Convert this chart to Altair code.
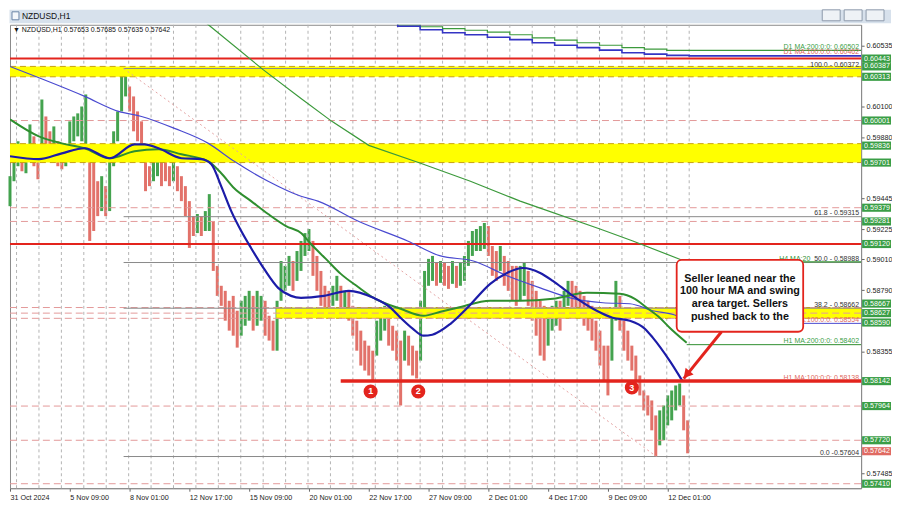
import altair as alt
import pandas as pd

W, H = 854, 465

# ---------------- axis data ----------------
x_tick_bars = [0, 64, 128, 192, 256, 320, 384, 448, 512, 576, 640, 704]
x_tick_labels = ["31 Oct 2024", "5 Nov 09:00", "8 Nov 01:00", "12 Nov 17:00", "15 Nov 09:00",
                 "20 Nov 01:00", "22 Nov 17:00", "27 Nov 09:00", "2 Dec 01:00", "4 Dec 17:00",
                 "9 Dec 09:00", "12 Dec 01:00"]
day_grid_bars = list(range(7, 728, 24))
y_tick_values = [0.60535, 0.60100, 0.59880, 0.59445, 0.59225, 0.59010, 0.58790, 0.58355, 0.57485]

# ---------------- price (aggregated hourly candles) ----------------
candle_high = [
    0.59604, 0.59782, 0.59853, 0.59796, 0.59817, 0.59973, 0.59888, 0.59746, 0.60151, 0.60030,
    0.59924, 0.59959, 0.59853, 0.59782, 0.59817, 0.59995, 0.60030, 0.60052, 0.60101, 0.60187,
    0.59782, 0.59710, 0.59568, 0.59604, 0.59533, 0.59710, 0.59924, 0.60066, 0.60350, 0.60372,
    0.60244, 0.60173, 0.60066, 0.59995, 0.59782, 0.59675, 0.59746, 0.59782, 0.59746, 0.59710,
    0.59675, 0.59710, 0.59675, 0.59604, 0.59533, 0.59426, 0.59319, 0.59334, 0.59319, 0.59355,
    0.59476, 0.59284, 0.58964, 0.58822, 0.58786, 0.58715, 0.58750, 0.58644, 0.58715, 0.58750,
    0.58786, 0.58750, 0.58786, 0.58750, 0.58715, 0.58608, 0.58573, 0.58715, 0.58999, 0.58964,
    0.59035, 0.58999, 0.59070, 0.59142, 0.59198, 0.59227, 0.59142, 0.59035, 0.58928, 0.58822,
    0.58786, 0.58822, 0.58893, 0.58822, 0.58786, 0.58786, 0.58679, 0.58573, 0.58502, 0.58431,
    0.58395, 0.58359, 0.58573, 0.58644, 0.58679, 0.58608, 0.58537, 0.58502, 0.58431, 0.58502,
    0.58466, 0.58395, 0.58359, 0.58715, 0.58928, 0.59014, 0.59035, 0.58985, 0.58999, 0.58985,
    0.58964, 0.58999, 0.58964, 0.58985, 0.59035, 0.59142, 0.59213, 0.59227, 0.59248, 0.59270,
    0.59248, 0.59106, 0.59070, 0.59106, 0.59035, 0.58999, 0.58964, 0.58964, 0.58964, 0.58985,
    0.58928, 0.58857, 0.58786, 0.58715, 0.58679, 0.58644, 0.58679, 0.58715, 0.58715, 0.58786,
    0.58857, 0.58857, 0.58822, 0.58786, 0.58750, 0.58715, 0.58679, 0.58573, 0.58502, 0.58395,
    0.58395, 0.58644, 0.58857, 0.58750, 0.58573, 0.58502, 0.58395, 0.58324, 0.58182, 0.58075,
    0.58040, 0.58004, 0.57897, 0.57933, 0.57968, 0.58040, 0.58075, 0.58111, 0.58125, 0.58040,
    0.57862]
candle_low = [
    0.59390, 0.59568, 0.59675, 0.59639, 0.59625, 0.59710, 0.59675, 0.59582, 0.59782, 0.59782,
    0.59710, 0.59746, 0.59675, 0.59653, 0.59675, 0.59782, 0.59853, 0.59888, 0.59853, 0.59817,
    0.59142, 0.59213, 0.59319, 0.59355, 0.59319, 0.59355, 0.59675, 0.59853, 0.60066, 0.60173,
    0.60066, 0.59924, 0.59853, 0.59782, 0.59497, 0.59533, 0.59568, 0.59604, 0.59533, 0.59568,
    0.59533, 0.59568, 0.59497, 0.59426, 0.59319, 0.59092, 0.59177, 0.59198, 0.59177, 0.59213,
    0.59213, 0.58928, 0.58750, 0.58679, 0.58573, 0.58502, 0.58466, 0.58381, 0.58466, 0.58537,
    0.58573, 0.58502, 0.58537, 0.58573, 0.58466, 0.58431, 0.58359, 0.58359, 0.58715, 0.58786,
    0.58822, 0.58786, 0.58857, 0.58928, 0.59035, 0.59070, 0.58893, 0.58786, 0.58679, 0.58644,
    0.58630, 0.58679, 0.58715, 0.58608, 0.58644, 0.58573, 0.58466, 0.58359, 0.58253, 0.58217,
    0.58182, 0.58146, 0.58324, 0.58431, 0.58502, 0.58395, 0.58359, 0.58288, 0.57968, 0.58288,
    0.58253, 0.58182, 0.58161, 0.58288, 0.58644, 0.58822, 0.58857, 0.58822, 0.58843, 0.58822,
    0.58800, 0.58836, 0.58807, 0.58822, 0.58857, 0.58964, 0.59035, 0.59070, 0.59070, 0.59085,
    0.59035, 0.58893, 0.58857, 0.58928, 0.58822, 0.58786, 0.58715, 0.58679, 0.58715, 0.58750,
    0.58679, 0.58573, 0.58466, 0.58324, 0.58288, 0.58395, 0.58502, 0.58537, 0.58502, 0.58608,
    0.58679, 0.58644, 0.58644, 0.58608, 0.58537, 0.58502, 0.58431, 0.58359, 0.58253, 0.58146,
    0.58040, 0.58288, 0.58573, 0.58502, 0.58359, 0.58288, 0.58217, 0.58146, 0.58040, 0.57933,
    0.57897, 0.57791, 0.57604, 0.57684, 0.57720, 0.57826, 0.57862, 0.57933, 0.57968, 0.57791,
    0.57627]
candle_bar = [round(i * 64 / 15, 2) for i in range(len(candle_high))]

# ---------------- moving averages ----------------
h1_ma100_bar = [0, 31, 55.5, 80, 106.7, 133.3, 144, 159, 183.5, 204.8, 215.5, 226, 236.8, 247.5,
                258, 272, 287, 300.8, 311.5, 336, 362.7, 389, 407.5, 418, 431, 442.7, 452, 471.5,
                489.6, 514, 532, 549, 567.5, 581, 599.5, 628, 645, 663.5, 679.5, 688, 706, 720]
h1_ma100_val = [0.59746, 0.59725, 0.59767, 0.59803, 0.59732, 0.59831, 0.59831, 0.59803, 0.59732,
                0.59725, 0.59689, 0.59533, 0.59355, 0.59213, 0.59092, 0.58942, 0.58807, 0.58750,
                0.58736, 0.58750, 0.58786, 0.58736, 0.58665, 0.58594, 0.58516, 0.58466, 0.58473,
                0.58551, 0.58665, 0.58836, 0.58914, 0.58949, 0.58914, 0.58857, 0.58765, 0.58644,
                0.58594, 0.58573, 0.58516, 0.58452, 0.58288, 0.58140]
h1_ma200_bar = [0, 30.9, 55.5, 80, 106.7, 133.3, 158.9, 183.5, 212.3, 226.1, 240, 258.1, 276.3,
                295.5, 311.5, 322.1, 338.1, 354.1, 372.3, 389.3, 418.1, 442.7, 460.8, 478.9,
                514.1, 546.1, 581.3, 617.6, 652.8, 668.8, 681.6, 695.5, 706.1, 724.3]
h1_ma200_val = [0.60009, 0.59888, 0.59838, 0.59803, 0.59732, 0.59782, 0.59796, 0.59760, 0.59710,
                0.59625, 0.59518, 0.59426, 0.59334, 0.59248, 0.59198, 0.59120, 0.59014, 0.58907,
                0.58815, 0.58736, 0.58658, 0.58608, 0.58637, 0.58665, 0.58715, 0.58715, 0.58729,
                0.58772, 0.58765, 0.58729, 0.58665, 0.58594, 0.58523, 0.58416]
h4_ma100_bar = [0, 80, 116.3, 140.8, 176, 212.3, 240, 276.3, 311.5, 329.6, 372.3, 425.6, 460.8,
                496, 532.3, 567.5, 599.5, 634.7, 663.5, 688, 713.6, 724.3]
h4_ma100_val = [0.60386, 0.60173, 0.60066, 0.60030, 0.59945, 0.59838, 0.59710, 0.59568, 0.59461,
                0.59426, 0.59284, 0.59142, 0.59035, 0.58999, 0.58893, 0.58807, 0.58736, 0.58701,
                0.58694, 0.58644, 0.58608, 0.58566]
h4_ma200_bar = [204.8, 212.3, 270.9, 311.5, 344.5, 384, 439.5, 492.8, 546.1, 567.5, 631.5, 666.7, 724.3]
h4_ma200_val = [0.60727, 0.60684, 0.60364, 0.60158, 0.59995, 0.59824, 0.59696, 0.59568, 0.59426,
                0.59376, 0.59227, 0.59142, 0.58992]
d1_ma200_bar = [391, 415, 439, 463, 487, 511, 535, 559, 583, 607, 631, 655, 679, 703, 911]
d1_ma200_val = [0.60720, 0.60684, 0.60670, 0.60656, 0.60645, 0.60631, 0.60613, 0.60591, 0.60574,
                0.60556, 0.60538, 0.60521, 0.60510, 0.60502, 0.60502]
d1_ma100_bar = [391, 415, 439, 463, 487, 511, 535, 559, 583, 607, 631, 655, 679, 703, 727, 911]
d1_ma100_val = [0.60720, 0.60674, 0.60649, 0.60627, 0.60613, 0.60595, 0.60578, 0.60556, 0.60538,
                0.60521, 0.60503, 0.60485, 0.60475, 0.60466, 0.60462, 0.60462]

# ---------------- levels ----------------
pink_levels = [0.60001, 0.59379, 0.59281, 0.58667, 0.58627, 0.58590, 0.57964, 0.57720, 0.57410]
band_top = [0.60387, 0.59836, 0.58667]
band_bottom = [0.60313, 0.59701, 0.58590]
band_start = [0, 0, 285]
red_full_levels = [0.60443, 0.59120]
support_level = 0.58142
support_start = 354
fib_levels = [0.60372, 0.59315, 0.58988, 0.58662, 0.57604]
fib_text = ["100.0 - 0.60372", "61.8 - 0.59315", "50.0 - 0.58988", "38.2 - 0.58662", "0.0 -0.57604"]
fib_start = 121.6
fib_diag_bar = [121.6, 692]
fib_diag_val = [0.60372, 0.57604]
tag_values = [0.60443, 0.60387, 0.60313, 0.60001, 0.59836, 0.59701, 0.59379, 0.59281, 0.59120,
              0.58667, 0.58627, 0.58590, 0.58142, 0.57964, 0.57720, 0.57410]
# where each price tag is drawn on the right scale (crowded tags nudged apart, as the terminal does)
tag_drawn_at = [0.60443, 0.60387, 0.60313, 0.60001, 0.59822, 0.59701, 0.59379, 0.59281, 0.59120,
                0.58695, 0.58627, 0.58560, 0.58142, 0.57964, 0.57720, 0.57410]
last_price = 0.57642

ma_label_text = ["D1 MA:200:0:0: 0.60502", "D1 MA:100:0:0: 0.60462", "H4 MA:100:0:0: 0.58554",
                 "H1 MA:200:0:0: 0.58402", "H1 MA:100:0:0: 0.58138"]
ma_label_val = [0.60502, 0.60462, 0.58554, 0.58402, 0.58138]
ma_label_kind = ["g", "b", "b", "g", "b"]

circle_bar = [386, 437, 665.6]
circle_val = [0.58068, 0.58068, 0.58096]
circle_txt = ["1", "2", "3"]

note_lines = ["Seller leaned near the", "100 hour MA and swing", "area target. Sellers", "pushed back to the"]
note_line_val = [0.58873, 0.58786, 0.58691, 0.58601]
note_box_bar = [713.6, 849]
note_box_val = [0.59007, 0.58494]
arrow_from = (761.6, 0.58494)
arrow_to = (721.1, 0.58160)
arrow_head = (724.3, 0.58189)

# ---------------- styles ----------------
FONT = "Liberation Sans"
GREEN = "#2f8f2f"
BLUE = "#1c1ca8"
RED = "#e3241d"
PINK = "#e39a9a"
GOLD = "#c9a20e"
UP = "#3a9e46"
DOWN = "#e06a62"

xs = alt.Scale(domain=[0, 911], nice=False, zero=False)
ys = alt.Scale(domain=[0.57378, 0.60684], nice=False, zero=False)

label_expr = "[" + ",".join(f"'{s}'" for s in x_tick_labels) + "][round(datum.value / 64)]"
AX = alt.Axis(values=x_tick_bars, labelExpr=label_expr, labelAlign="left", labelFontSize=7.2,
              labelFont=FONT, labelColor="#222", labelPadding=2, tickSize=3, tickColor="#666",
              domainColor="#8a8a8a", grid=False, title=None, labelFlush=False, labelOverlap=False,
              labelBound=False)
AY = alt.Axis(orient="right", values=y_tick_values, format=".5f", labelFontSize=7.2, labelFont=FONT,
              labelColor="#222", labelPadding=2, tickSize=3, tickColor="#666", domainColor="#8a8a8a",
              grid=False, title=None, labelOverlap=False, labelFlush=False, labelBound=False)


def X(f="bar"):
    return alt.X(f"{f}:Q", scale=xs, axis=AX)


def Y(f="v"):
    return alt.Y(f"{f}:Q", scale=ys, axis=AY)


# ---------------- tables ----------------
cdf = pd.DataFrame({"bar": candle_bar, "hi": candle_high, "lo": candle_low})
mid = (cdf.hi + cdf.lo) / 2
cdf["dir"] = ["up" if i == 0 or mid[i] >= mid[i - 1] else "down" for i in range(len(cdf))]

grid_df = pd.DataFrame({"bar": day_grid_bars})
pink_df = pd.DataFrame({"v": pink_levels})
band_df = pd.DataFrame({"bar": band_start, "top": band_top, "bot": band_bottom})
edge_df = pd.DataFrame({"bar": band_start + band_start, "v": band_top + band_bottom})
red_df = pd.DataFrame({"v": red_full_levels})
fib_df = pd.DataFrame({"bar": [fib_start] * len(fib_levels), "v": fib_levels, "t": fib_text})
diag_df = pd.DataFrame({"bar": fib_diag_bar, "v": fib_diag_val})


def line_df(b, v):
    return pd.DataFrame({"bar": b, "v": v})


# ---------------- layers ----------------
grid = alt.Chart(grid_df).mark_rule(color="#b4b4b4", strokeDash=[3, 3], strokeWidth=1).encode(x=X())

bands = alt.Chart(band_df).mark_rect(color="#ffff00", opacity=1).encode(
    x=X(), x2=alt.value(W), y=Y("top"), y2=alt.Y2("bot:Q"))
band_edges = alt.Chart(edge_df).mark_rule(color=GOLD, strokeDash=[6, 4], strokeWidth=1).encode(
    x=X(), x2=alt.value(W), y=Y())
pinks = alt.Chart(pink_df).mark_rule(color=PINK, strokeDash=[7, 4], strokeWidth=1).encode(y=Y())
fibs = alt.Chart(fib_df).mark_rule(color="#8a8a8a", strokeWidth=1).encode(
    x=X(), x2=alt.value(W), y=Y())
diag = alt.Chart(diag_df).mark_line(color="#e4a4a4", strokeDash=[2, 3], strokeWidth=1).encode(
    x=X(), y=Y())
reds = alt.Chart(red_df).mark_rule(color=RED, strokeWidth=2).encode(y=Y())


def ma(b, v, color, width, interp="monotone"):
    return alt.Chart(line_df(b, v)).mark_line(color=color, strokeWidth=width, clip=True,
                                               interpolate=interp).encode(x=X(), y=Y())


d1_200 = ma(d1_ma200_bar, d1_ma200_val, "#3c9a3c", 1.2, "step-after")
d1_100 = ma(d1_ma100_bar, d1_ma100_val, "#3434c4", 1.6, "step-after")
h4_200 = ma(h4_ma200_bar + [911], h4_ma200_val + [0.58992], "#3c9a3c", 1.2, "linear")
h4_100 = ma(h4_ma100_bar, h4_ma100_val, "#4a4ad0", 1.2)
h4_100_ext = ma([724.3, 911], [0.58554, 0.58554], "#4a4ad0", 1, "linear")
h1_200 = ma(h1_ma200_bar, h1_ma200_val, GREEN, 2)
h1_200_ext = ma([724.3, 911], [0.58402, 0.58402], GREEN, 1, "linear")
h1_100 = ma(h1_ma100_bar, h1_ma100_val, BLUE, 2.2)

candles = alt.Chart(cdf).mark_rule(strokeWidth=3.0, opacity=0.95).encode(
    x=X(), y=Y("lo"), y2="hi:Q",
    color=alt.Color("dir:N", scale=alt.Scale(domain=["up", "down"], range=[UP, DOWN]), legend=None),
)

support = alt.Chart(pd.DataFrame({"bar": [support_start], "v": [support_level]})).mark_rule(
    color=RED, strokeWidth=3.5).encode(x=X(), x2=alt.value(W), y=Y())

fib_labels = alt.Chart(fib_df).mark_text(align="right", baseline="alphabetic", dy=-1.5,
                                         fontSize=7, font=FONT, color="#333").encode(
    x=alt.value(W - 2), y=Y(), text="t:N")
ma_lab_df = pd.DataFrame({"v": ma_label_val, "t": ma_label_text, "k": ma_label_kind})
ma_labels = alt.Chart(ma_lab_df).mark_text(align="right", baseline="alphabetic", dy=-1.5,
                                           fontSize=7, font=FONT).encode(
    x=alt.value(W - 2), y=Y(), text="t:N",
    color=alt.Color("k:N", scale=alt.Scale(domain=["g", "b"], range=["#2f8f2f", "#3030c0"]), legend=None))
h4_label = alt.Chart(pd.DataFrame({"v": [0.58988], "t": ["H4 MA:20"]})).mark_text(
    align="right", baseline="alphabetic", dy=-1.5, fontSize=7, font=FONT, color="#2f8f2f").encode(
    x=alt.value(803), y=Y(), text="t:N")

circ_df = pd.DataFrame({"bar": circle_bar, "v": circle_val, "t": circle_txt})
circles = alt.Chart(circ_df).mark_circle(size=200, color=RED, opacity=1).encode(x=X(), y=Y())
circle_txt_l = alt.Chart(circ_df).mark_text(color="white", fontSize=9, font=FONT, fontWeight="bold",
                                            baseline="middle").encode(x=X(), y=Y(), text="t:N")

arrow = alt.Chart(pd.DataFrame({"bar": [arrow_from[0]], "v": [arrow_from[1]],
                                "bar2": [arrow_to[0]], "v2": [arrow_to[1]]})).mark_rule(
    color=RED, strokeWidth=3).encode(x=X(), y=Y(), x2="bar2:Q", y2="v2:Q")
arrow_tip = alt.Chart(pd.DataFrame({"bar": [arrow_head[0]], "v": [arrow_head[1]]})).mark_point(
    shape="triangle-up", angle=220, filled=True, size=110, color=RED, opacity=1).encode(x=X(), y=Y())

note_box = alt.Chart(pd.DataFrame({"bar": [note_box_bar[0]], "bar2": [note_box_bar[1]],
                                   "v": [note_box_val[0]], "v2": [note_box_val[1]]})).mark_rect(
    fill="white", stroke=RED, strokeWidth=1.8, cornerRadius=5).encode(
    x=X(), x2="bar2:Q", y=Y(), y2="v2:Q")
note_text = alt.Chart(pd.DataFrame({"bar": [(note_box_bar[0] + note_box_bar[1]) / 2] * 4,
                                    "v": note_line_val, "t": note_lines})).mark_text(
    fontSize=10.8, font=FONT, fontWeight="bold", color="#111", baseline="middle").encode(
    x=X(), y=Y(), text="t:N")

tag_df = pd.DataFrame({"v": tag_drawn_at + [last_price],
                       "t": [f"{v:.5f}" for v in tag_values + [last_price]],
                       "k": ["r"] * len(tag_values) + ["k"]})
tags = alt.Chart(tag_df).transform_calculate(top="datum.v + 0.00029", bot="datum.v - 0.00029").mark_rect().encode(
    x=alt.value(W + 1), x2=alt.value(W + 30), y=Y("top"), y2=alt.Y2("bot:Q"),
    color=alt.Color("k:N", scale=alt.Scale(domain=["r", "k"], range=["#ee1c1c", "#111111"]), legend=None))
tag_txt = alt.Chart(tag_df).mark_text(align="left", baseline="middle", fontSize=7.2, font=FONT,
                                      color="white").encode(x=alt.value(W + 3), y=Y(), text="t:N")

# window chrome (pixel placed, outside the plot)
chrome = alt.Chart(pd.DataFrame({"a": [0]})).mark_rect(color="#d7e1ec").encode(
    x=alt.value(-0.5), x2=alt.value(W + 30), y=alt.value(-15), y2=alt.value(-1.5))


def button(x0):
    return alt.Chart(pd.DataFrame({"a": [0]})).mark_rect(
        fill="#eef2f6", stroke="#8d9aab", strokeWidth=1).encode(
        x=alt.value(x0), x2=alt.value(x0 + 18), y=alt.value(-15), y2=alt.value(-4))


title_txt = alt.Chart(pd.DataFrame({"t": ["NZDUSD,H1"]})).mark_text(
    align="left", baseline="middle", fontSize=8.5, font=FONT, color="#111").encode(
    x=alt.value(12), y=alt.value(-9), text="t:N")
icon = alt.Chart(pd.DataFrame({"a": [0]})).mark_rect(fill="#f4f7fb", stroke="#6b86a8").encode(
    x=alt.value(2), x2=alt.value(9), y=alt.value(-13), y2=alt.value(-5))
header = alt.Chart(pd.DataFrame({"t": ["\u25bc NZDUSD,H1  0.57653 0.57685 0.57635 0.57642"]})).mark_text(
    align="left", baseline="middle", fontSize=7, font=FONT, color="#111").encode(
    x=alt.value(3), y=alt.value(5), text="t:N")

chart = alt.layer(
    candles, grid, bands, band_edges, pinks, fibs, diag, reds,
    d1_200, d1_100, h4_200, h4_100, h4_100_ext, h1_200, h1_200_ext, h1_100,
    support, fib_labels, h4_label, ma_labels,
    circles, circle_txt_l, arrow, arrow_tip, note_box, note_text,
    tags, tag_txt, chrome, button(815), button(837), button(859), icon, title_txt, header,
).properties(width=W, height=H, padding=0, background="white").configure_view(
    stroke="#8a8a8a", strokeWidth=1)

chart.save("out.html", embed_options={"renderer": "svg", "actions": False})
